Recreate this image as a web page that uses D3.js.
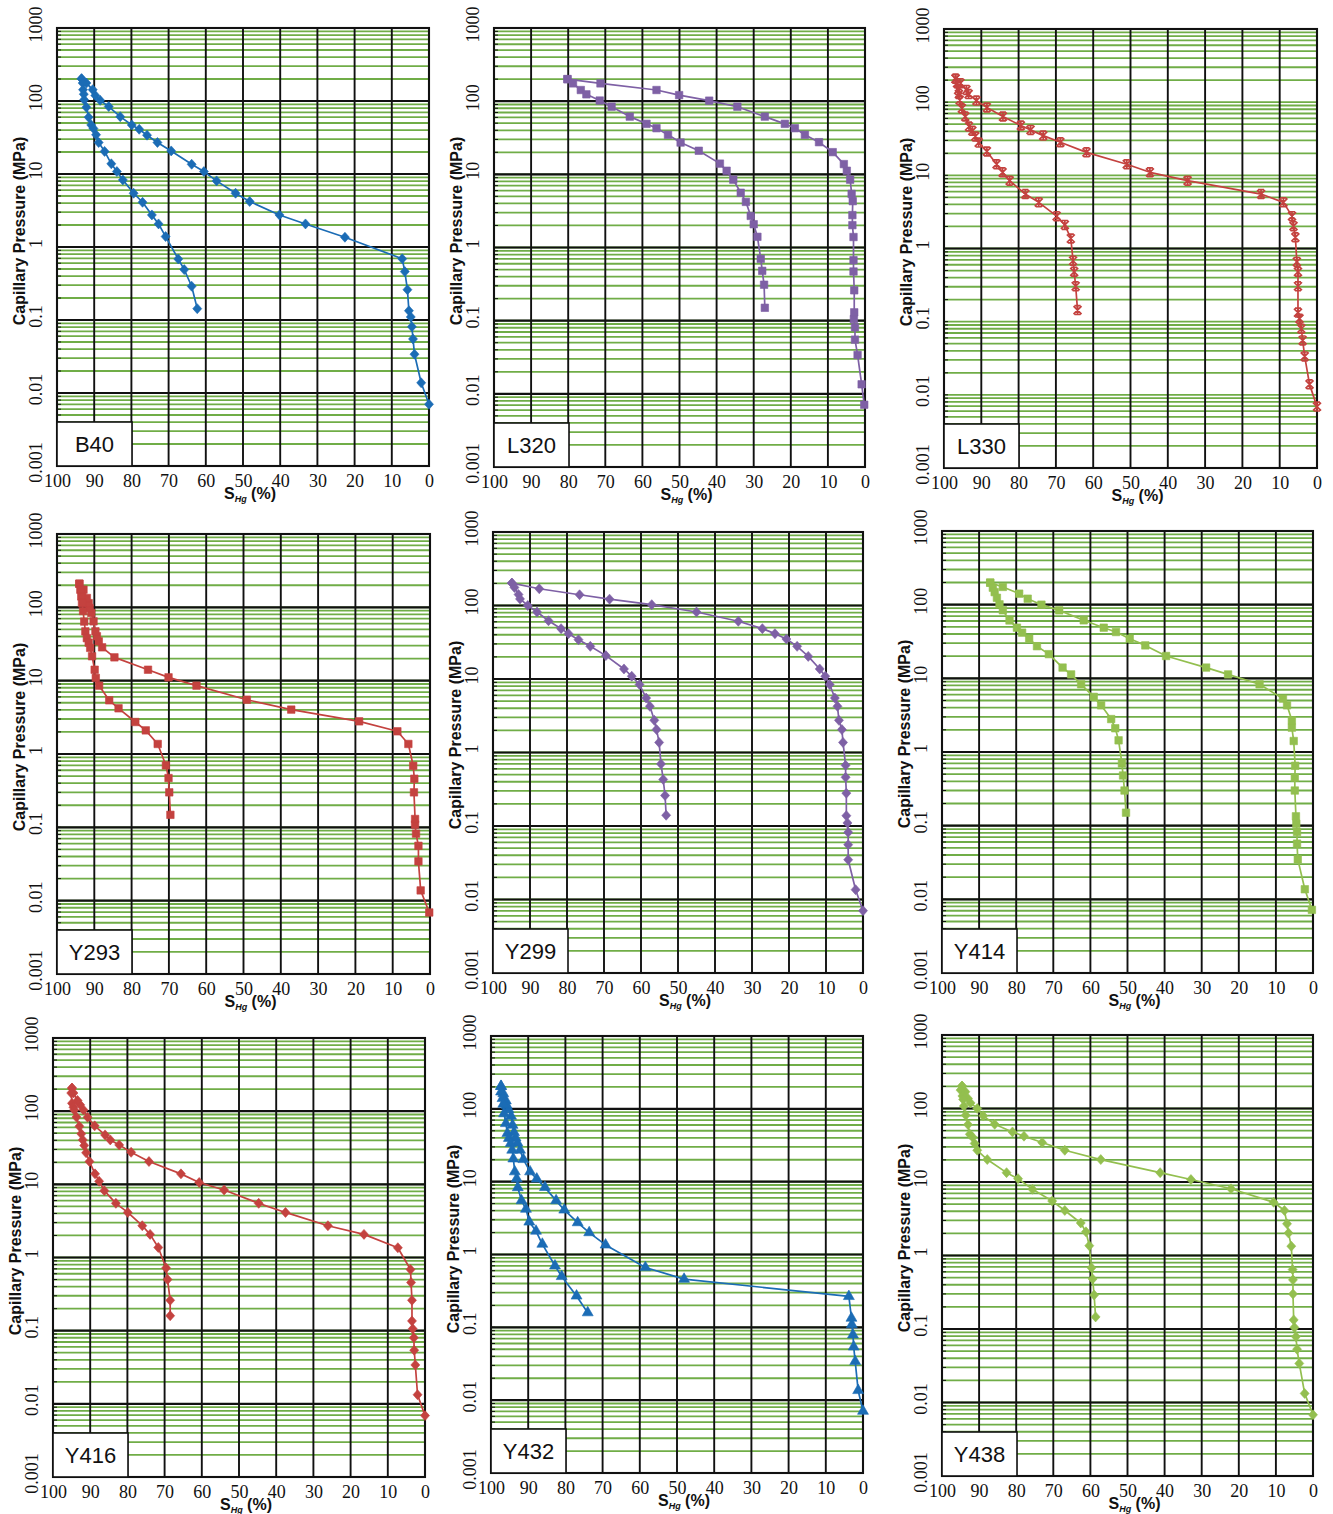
<!DOCTYPE html>
<html>
<head>
<meta charset="utf-8">
<script src="https://cdn.jsdelivr.net/npm/d3@7"></script>
<style>
  body { margin: 0; background: #fff; }
  svg { display: block; }
  .tick-serif text { font-family: "Liberation Serif", "Times New Roman", "DejaVu Serif", serif; }
</style>
</head>
<body>
<svg id="chart" width="1333" height="1514"></svg>
<script>
// ---- Data: mercury saturation S_Hg (%) vs capillary pressure (MPa) ----
// Each curve is a list of [S_Hg, Pc] pairs.

const sampleNames = ["B40", "L320", "L330", "Y293", "Y299", "Y414", "Y416", "Y432", "Y438"];

const saturationTicks = [100, 90, 80, 70, 60, 50, 40, 30, 20, 10, 0];
const pressureTicks = [0.001, 0.01, 0.1, 1, 10, 100, 1000];
const pressureTickLabels = ["0.001", "0.01", "0.1", "1", "10", "100", "1000"];

const b40Injection = [[0,0.007],[2.1,0.0138],[3.9,0.034],[4.3,0.055],[4.6,0.081],[4.9,0.11],[5.4,0.134],[5.8,0.26],[6.5,0.46],[7.2,0.69],[22.6,1.36],[33.2,2.07],[40.2,2.75],[48.2,4.2],[52.0,5.45],[57.1,8.05],[60.5,10.8],[63.8,13.6],[69.3,20.7],[73.0,27],[75.8,34],[77.9,41],[79.9,47],[83.0,61],[86.1,84],[88.4,102],[89.7,119],[90.4,143],[92.1,176],[93.4,202]];
const b40Withdrawal = [[93.4,202],[93.1,176],[93.0,143],[92.8,124],[92.7,104],[92.1,82],[91.5,60],[90.8,47],[90.2,42],[89.5,34.5],[88.8,27],[87.2,20.4],[85.4,13.8],[83.9,10.8],[82.3,8.3],[79.4,5.45],[77.0,4.1],[74.5,2.75],[72.7,2.07],[70.8,1.39],[67.4,0.685],[65.8,0.49],[63.8,0.29],[62.3,0.143]];

const l320Injection = [[0.2,0.0071],[0.9,0.0135],[2.0,0.034],[2.7,0.055],[2.7,0.081],[3.0,0.105],[2.9,0.13],[2.9,0.26],[3.1,0.47],[3.1,0.67],[3.1,1.39],[3.4,2.02],[3.4,2.77],[3.3,4.3],[3.6,5.4],[4.0,8.45],[4.9,11.2],[5.7,13.8],[8.7,20.1],[12.4,27.5],[16.2,34.7],[18.9,42.7],[21.6,49],[27.0,61.5],[34.4,84],[42.0,101.6],[50.1,121],[56.2,142],[71.3,175],[80.2,200]];
const l320Withdrawal = [[80.2,200],[78.7,175],[76.6,142],[75.1,124],[71.5,102],[68.3,84],[63.4,61.5],[58.9,49],[56.2,42.7],[53.1,34.7],[49.7,27.2],[44.8,21],[39.1,14],[37.3,11.2],[35.5,8.45],[33.5,5.6],[32.1,4.2],[30.8,2.7],[30.0,2.08],[29.0,1.4],[28.1,0.7],[27.7,0.48],[27.2,0.31],[27.0,0.15]];

const l330Injection = [[0,0.0069],[2.0,0.0139],[3.3,0.0335],[3.85,0.0555],[4.2,0.08],[4.7,0.11],[5.1,0.133],[5.1,0.305],[5.1,0.48],[5.4,0.656],[5.8,1.42],[6.3,2.02],[6.7,2.77],[9.0,4.27],[15.0,5.55],[34.7,8.45],[44.8,11],[51.0,14.2],[61.8,20.6],[68.8,28.3],[73.4,34.9],[76.8,41.8],[79.4,47.9],[84.2,63.6],[88.5,84.5],[91.3,105],[93.4,129],[94.0,147],[95.6,182],[96.9,209]];
const l330Withdrawal = [[96.9,209],[96.5,182],[96.2,147],[96.0,129],[95.8,107],[95.2,82],[94.3,63.6],[93.3,46.5],[92.4,40.6],[91.6,34],[90.7,28],[88.5,21.2],[85.9,14.2],[84.3,11],[82.4,8.45],[78.2,5.55],[74.6,4.27],[69.8,2.77],[67.6,2.1],[66.0,1.37],[65.4,0.68],[65.1,0.48],[64.7,0.305],[64.2,0.144]];

const y293Injection = [[0.2,0.0069],[2.5,0.0138],[3.1,0.0344],[3.1,0.056],[3.75,0.082],[4.0,0.109],[4.0,0.13],[4.3,0.30],[4.2,0.46],[4.5,0.69],[5.8,1.37],[8.75,2.04],[19.0,2.79],[37.2,4.03],[49.1,5.5],[62.6,8.55],[70.1,11.1],[75.6,14.1],[84.6,20.8],[87.9,28.5],[88.8,34.4],[89.3,40.3],[89.7,47.1],[90.2,64.4],[90.8,83.7],[91.25,98],[91.5,114],[92.0,134],[92.9,174],[94.0,210]];
const y293Withdrawal = [[94.0,210],[93.75,174],[93.5,141],[93.3,114],[93.0,89],[92.7,64],[92.4,47],[92.0,38],[91.5,33],[91.1,28],[90.6,21.5],[89.9,14.1],[89.6,10.9],[88.7,8.55],[86.0,5.4],[83.5,4.2],[79.0,2.73],[76.2,2.1],[73.0,1.37],[70.8,0.70],[70.1,0.47],[69.9,0.30],[69.6,0.148]];

const y299Injection = [[0,0.00705],[2.0,0.0136],[4.0,0.0348],[4.0,0.0557],[4.0,0.082],[4.2,0.11],[4.5,0.138],[4.5,0.28],[4.7,0.46],[4.7,0.67],[5.4,1.37],[5.7,2.05],[6.5,2.74],[6.9,4.25],[7.6,5.5],[9.0,8.4],[10.2,10.9],[11.7,13.7],[14.8,20.3],[17.8,27.8],[20.7,35],[23.8,41.4],[27.2,48.4],[33.7,61],[45.0,81.6],[57.1,102.6],[68.5,122],[76.6,140],[87.5,169],[94.9,202]];
const y299Withdrawal = [[94.9,202],[94.2,176],[93.1,141],[92.7,123],[90.6,100],[88.1,81.6],[85.0,62],[81.6,48.4],[79.6,41.4],[76.9,34.3],[73.7,27.8],[69.5,20.8],[64.6,13.7],[62.5,10.9],[60.4,8.4],[58.6,5.5],[57.6,4.25],[56.4,2.74],[55.8,2.05],[55.1,1.37],[54.6,0.70],[54.0,0.43],[53.5,0.26],[53.2,0.14]];

const y414Injection = [[0.3,0.0072],[2.2,0.0137],[4.1,0.0349],[4.3,0.057],[4.3,0.082],[4.5,0.106],[4.6,0.134],[4.9,0.30],[4.9,0.45],[4.8,0.65],[5.2,1.41],[5.7,2.14],[5.7,2.69],[7.0,4.3],[8.1,5.3],[14.4,8.3],[22.9,11.3],[28.8,14],[39.6,20.1],[45.2,28],[49.4,34.5],[53.1,42.5],[56.4,48.7],[61.8,61.3],[68.4,83.7],[73.2,100],[76.9,120.5],[79.2,141],[83.6,174],[87.0,199]];
const y414Withdrawal = [[87.0,199],[86.3,170],[85.8,148],[85.2,124],[84.5,101],[83.6,84],[81.8,61],[79.8,48.7],[78.4,41.7],[76.5,34.5],[74.4,27.3],[71.2,21.3],[67.5,14],[65.2,11.3],[62.5,8.3],[59.1,5.6],[57.1,4.3],[54.4,2.8],[53.3,2.1],[52.4,1.44],[51.5,0.70],[51.2,0.48],[50.8,0.30],[50.4,0.15]];

const y416Injection = [[0,0.0069],[2.0,0.0133],[2.6,0.034],[2.9,0.054],[3.0,0.080],[3.3,0.106],[3.5,0.136],[3.5,0.26],[3.75,0.455],[3.9,0.685],[7.3,1.36],[16.4,2.07],[26.1,2.72],[37.5,4.13],[44.7,5.5],[54.0,8.36],[60.7,10.6],[65.6,13.9],[74.2,20.5],[79.0,27.4],[82.2,34.6],[84.6,40.5],[86.0,47.4],[88.8,63],[90.7,82.7],[91.8,104],[92.7,122],[93.4,140],[94.5,177],[94.9,207]];
const y416Withdrawal = [[94.9,207],[95.1,177],[94.9,128],[94.5,113],[94.3,104],[93.7,83],[92.9,62],[92.4,49],[92.0,40.5],[91.6,34],[91.1,27],[90.2,20.5],[88.7,13.9],[87.6,11],[86.2,8.2],[83.1,5.5],[79.9,4.13],[76.0,2.72],[73.9,2.07],[71.7,1.37],[69.6,0.72],[69.2,0.50],[68.5,0.26],[68.5,0.16]];

const y432Injection = [[0,0.00707],[1.3,0.0136],[2.1,0.034],[2.5,0.054],[2.7,0.079],[3.0,0.109],[3.1,0.134],[3.8,0.266],[48.1,0.459],[58.5,0.664],[69.2,1.355],[73.6,2.0],[76.7,2.74],[80.3,4.09],[82.5,5.5],[85.5,8.36],[87.7,10.9],[89.5,13.7],[91.3,20.2],[92.2,27.2],[92.9,34.2],[93.4,40.1],[93.8,47.4],[94.2,59.7],[94.6,79.4],[95.3,98],[95.8,112],[96.0,129],[96.7,162],[97.3,204]];
const y432Withdrawal = [[97.3,204],[97.3,171],[96.9,139],[96.7,116],[96.5,86],[96.0,63],[95.6,46],[95.2,39.5],[94.7,33.6],[94.3,27.2],[94.0,20.6],[93.6,13.7],[93.1,11],[92.8,8.3],[91.8,5.5],[90.6,4.2],[89.7,2.8],[87.9,2.1],[86.2,1.39],[82.8,0.70],[81.0,0.50],[77.0,0.27],[74.0,0.159]];

const y438Injection = [[0,0.0068],[2.25,0.0133],[3.7,0.034],[4.3,0.053],[4.6,0.0786],[5.0,0.105],[5.2,0.133],[5.4,0.30],[5.4,0.466],[5.5,0.644],[5.85,1.34],[6.6,2.02],[7.0,2.7],[7.7,4.1],[10.6,5.3],[22.1,8.1],[32.9,10.8],[41.2,13.4],[57.2,20.2],[66.9,27],[73.0,34.4],[77.9,42],[81.0,48],[85.8,61],[88.9,79.4],[90.5,100],[92.3,119],[93.0,137],[93.7,169],[94.6,202]];
const y438Withdrawal = [[94.6,202],[95.0,178],[94.5,148],[94.3,133],[94.1,108],[93.6,81],[93.0,60.5],[92.5,44.6],[91.8,41],[91.2,33.5],[90.5,27],[87.8,20.2],[82.6,13.4],[79.5,11.1],[75.6,7.95],[70.3,5.5],[66.9,4.1],[62.6,2.77],[61.2,2.1],[60.3,1.36],[59.7,0.68],[59.4,0.48],[59.0,0.29],[58.6,0.146]];

const injectionCurves = [b40Injection, l320Injection, l330Injection, y293Injection, y299Injection, y414Injection, y416Injection, y432Injection, y438Injection];
const withdrawalCurves = [b40Withdrawal, l320Withdrawal, l330Withdrawal, y293Withdrawal, y299Withdrawal, y414Withdrawal, y416Withdrawal, y432Withdrawal, y438Withdrawal];

// ---- Styling and layout ----
const BLUE = "#1b6cb5", PURPLE = "#7e60a5", RED = "#c4423f", GREEN = "#93bf4f";
const sampleColors = [BLUE, PURPLE, RED, RED, PURPLE, GREEN, RED, BLUE, GREEN];
const sampleMarkers = ["diamond", "square", "star", "square", "diamond", "square", "diamond", "triangle", "diamond"];
// decades drawn as heavy black lines (L330 only shows the 1 MPa line)
const blackDecades = [
  [0.01, 0.1, 1, 10, 100], [0.01, 0.1, 1, 10, 100], [1],
  [0.01, 0.1, 1, 10, 100], [0.01, 0.1, 1, 10, 100], [0.01, 0.1, 1, 10, 100],
  [0.01, 0.1, 1, 10, 100], [0.01, 0.1, 1, 10, 100], [0.01, 0.1, 1, 10, 100]
];
const frames = [
  { x: 57,  y: 28,   w: 372, h: 438 },
  { x: 494, y: 28,   w: 371, h: 439 },
  { x: 944, y: 29,   w: 373, h: 439 },
  { x: 57,  y: 534,  w: 373, h: 440 },
  { x: 493, y: 532,  w: 370, h: 441 },
  { x: 942, y: 531,  w: 371, h: 442 },
  { x: 53,  y: 1038, w: 372, h: 439 },
  { x: 491, y: 1036, w: 372, h: 437 },
  { x: 942, y: 1035, w: 371, h: 441 }
];

const GRID_GREEN = "#70ad47";
const INK = "#111";
const SANS = "'Liberation Sans',Arial,sans-serif";

// log minor gridline values 2..9 x each decade, plus decade lines
const minorValues = [];
for (let e = -3; e < 3; e++) {
  for (let k = 1; k <= 9; k++) {
    if (k === 1 && e === -3) continue;
    minorValues.push(+(k * Math.pow(10, e)).toPrecision(3));
  }
}

const svg = d3.select("#chart");

function markerPath(kind) {
  if (kind === "square") return d3.symbol().type(d3.symbolSquare).size(56)();
  if (kind === "triangle") return d3.symbol().type(d3.symbolTriangle).size(52)();
  if (kind === "diamond") return "M0,-5L4.5,0L0,5L-4.5,0Z";
  // star: an x crossed with a vertical stroke and short caps
  return "M-4,-4L4,4M-4,4L4,-4M0,-4.8L0,4.8M-3,-4.4L3,-4.4M-3,4.4L3,4.4";
}

sampleNames.forEach((name, i) => {
  const f = frames[i];
  const color = sampleColors[i];
  const marker = sampleMarkers[i];
  const g = svg.append("g").attr("transform", `translate(${f.x},${f.y})`);

  const x = d3.scaleLinear().domain([100, 0]).range([0, f.w]);
  const y = d3.scaleLog().domain([0.001, 1000]).range([f.h, 0]);

  g.append("rect").attr("width", f.w).attr("height", f.h).attr("fill", "#fff");

  // green minor gridlines
  g.append("g").selectAll("line").data(minorValues).join("line")
    .attr("x1", 0).attr("x2", f.w)
    .attr("y1", d => y(d)).attr("y2", d => y(d))
    .attr("stroke", GRID_GREEN).attr("stroke-width", 1.8);

  // short inward ticks on the left axis
  g.append("g").selectAll("line").data(minorValues).join("line")
    .attr("x1", 0).attr("x2", 4)
    .attr("y1", d => y(d)).attr("y2", d => y(d))
    .attr("stroke", INK).attr("stroke-width", 1);

  // black vertical gridlines every 10 %
  g.append("g").selectAll("line").data(saturationTicks).join("line")
    .attr("x1", d => x(d)).attr("x2", d => x(d))
    .attr("y1", 0).attr("y2", f.h)
    .attr("stroke", INK).attr("stroke-width", 1.9);

  // black decade gridlines
  g.append("g").selectAll("line").data(blackDecades[i]).join("line")
    .attr("x1", 0).attr("x2", f.w)
    .attr("y1", d => y(d)).attr("y2", d => y(d))
    .attr("stroke", INK).attr("stroke-width", 2.1);

  // plot frame
  g.append("rect").attr("width", f.w).attr("height", f.h)
    .attr("fill", "none").attr("stroke", INK).attr("stroke-width", 2.1);

  // sample label box
  g.append("rect").attr("x", 0).attr("y", f.h - 44).attr("width", 75).attr("height", 44)
    .attr("fill", "#fff").attr("stroke", INK).attr("stroke-width", 1.6);
  g.append("text").attr("x", 37.5).attr("y", f.h - 22).attr("dy", "0.36em")
    .attr("text-anchor", "middle").attr("font-family", SANS).attr("font-size", 22)
    .attr("fill", "#111").text(name);

  // x axis tick labels
  const xAxis = d3.axisBottom(x).tickValues(saturationTicks).tickSize(0).tickPadding(0)
    .tickFormat(d3.format("d"));
  const gx = g.append("g").attr("class", "tick-serif")
    .attr("transform", `translate(0,${f.h + 21})`).call(xAxis);
  gx.select(".domain").remove();
  gx.attr("font-size", 18);
  gx.selectAll("text").attr("y", 0).attr("dy", 0).attr("fill", "#111");

  // y axis tick labels (rotated)
  const yAxis = d3.axisLeft(y).tickValues(pressureTicks).tickSize(0)
    .tickFormat((d, k) => pressureTickLabels[k]);
  const gy = g.append("g").attr("class", "tick-serif").call(yAxis);
  gy.select(".domain").remove();
  gy.attr("font-size", 18);
  gy.selectAll("text")
    .attr("x", 0).attr("y", 0).attr("dy", 0)
    .attr("text-anchor", "middle")
    .attr("transform", "translate(-15,-4) rotate(-90)")
    .attr("fill", "#111");

  // axis titles
  g.append("text")
    .attr("transform", `translate(-32,${203}) rotate(-90)`)
    .attr("text-anchor", "middle").attr("font-family", SANS)
    .attr("font-weight", "bold").attr("font-size", 16).attr("fill", "#111")
    .text("Capillary Pressure (MPa)");

  const xt = g.append("text")
    .attr("x", f.w / 2 + 7).attr("y", f.h + 33)
    .attr("text-anchor", "middle").attr("font-family", SANS)
    .attr("font-weight", "bold").attr("font-size", 16).attr("fill", "#111");
  xt.append("tspan").text("S");
  xt.append("tspan").attr("font-size", 9).attr("font-style", "italic").attr("dy", 3).text("Hg");
  xt.append("tspan").attr("dy", -3).text("\u00a0(%)");

  // curves
  const line = d3.line().x(d => x(d[0])).y(d => y(d[1]));
  [injectionCurves[i], withdrawalCurves[i]].forEach(curve => {
    g.append("path").datum(curve)
      .attr("d", line)
      .attr("fill", "none").attr("stroke", color).attr("stroke-width", 1.7)
      .attr("stroke-linejoin", "round");

    const pts = g.append("g").selectAll("path").data(curve).join("path")
      .attr("transform", d => `translate(${x(d[0])},${y(d[1])})`)
      .attr("d", markerPath(marker));
    if (marker === "star") {
      pts.attr("fill", "none").attr("stroke", color).attr("stroke-width", 1.7);
    } else {
      pts.attr("fill", color).attr("stroke", color).attr("stroke-width", 0.6);
    }
  });
});
</script>
</body>
</html>
